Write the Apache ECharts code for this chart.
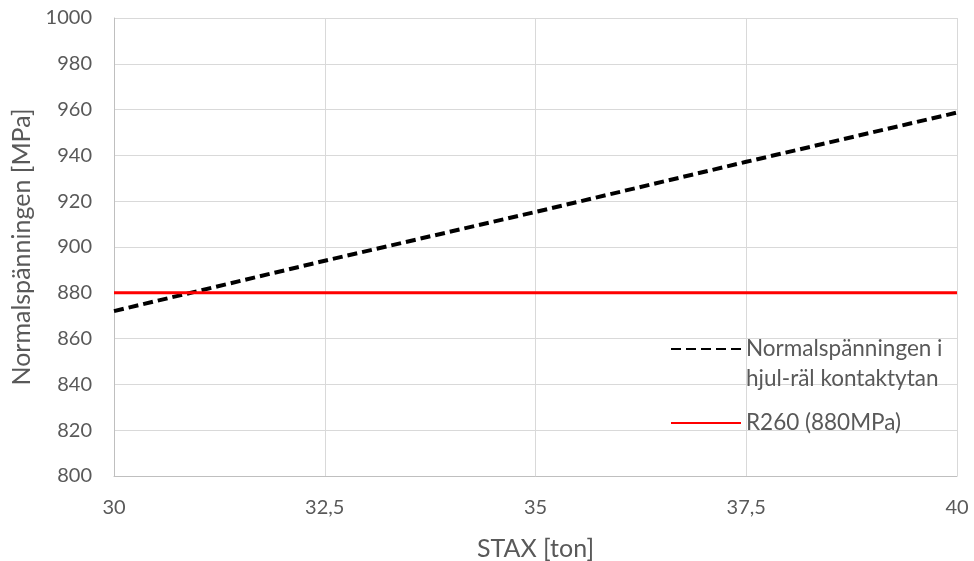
<!DOCTYPE html>
<html>
<head>
<meta charset="utf-8">
<script src="https://cdn.jsdelivr.net/npm/echarts@6/dist/echarts.min.js"></script>
<style>html,body{margin:0;padding:0;background:#fff}#c{width:974px;height:561px}</style>
</head>
<body>
<div id="c"></div>
<script>
const stax = [30, 32.5, 35, 37.5, 40];
const normalStress = [872, 894, 915.3, 937.2, 958.7];
const r260 = [880, 880, 880, 880, 880];
const seriesNames = ['Normalspänningen i\nhjul-räl kontaktytan', 'R260 (880MPa)'];
const xTitle = 'STAX [ton]';
const yTitle = 'Normalspänningen [MPa]';

const font = 'Lato, Open Sans, sans-serif';
const grey = '#595959';
const chart = echarts.init(document.getElementById('c'));
const legendBase = {
  left: 670, itemWidth: 70, itemHeight: 14, padding: 0,
  itemStyle: { opacity: 0 },
  textStyle: { color: grey, fontFamily: font, fontSize: 22.5, lineHeight: 30 }
};
chart.setOption({
  animation: false,
  backgroundColor: '#fff',
  grid: { left: 114, right: 17, top: 18, bottom: 85, containLabel: false, outerBoundsMode: 'none' },
  legend: [
    Object.assign({}, legendBase, { data: [seriesNames[0]], top: 304,
      formatter: n => ' \n' + n }),
    Object.assign({}, legendBase, { data: [seriesNames[1]], top: 408 })
  ],
  xAxis: {
    type: 'value', min: 30, max: 40, interval: 2.5,
    name: xTitle, nameLocation: 'middle', nameGap: 60,
    nameTextStyle: { color: grey, fontFamily: font, fontSize: 25 },
    axisLine: { show: true, lineStyle: { color: '#bfbfbf' } },
    axisTick: { show: false },
    axisLabel: { color: grey, fontFamily: font, fontSize: 20, margin: 22,
      formatter: v => String(v).replace('.', ',') },
    splitLine: { show: true, lineStyle: { color: '#d9d9d9' } }
  },
  yAxis: {
    type: 'value', min: 800, max: 1000, interval: 20,
    name: yTitle, nameLocation: 'middle', nameGap: 74, nameRotate: 90,
    nameTextStyle: { color: grey, fontFamily: font, fontSize: 25 },
    axisLine: { show: true, lineStyle: { color: '#bfbfbf' } },
    axisTick: { show: false },
    axisLabel: { color: grey, fontFamily: font, fontSize: 20, margin: 22,
      formatter: v => String(v) },
    splitLine: { show: true, lineStyle: { color: '#d9d9d9' } }
  },
  series: [
    {
      name: seriesNames[0], type: 'line', symbol: 'none',
      data: stax.map((x, i) => [x, normalStress[i]]),
      lineStyle: { color: '#000', width: 4, type: [10, 5] },
      itemStyle: { color: '#000' }
    },
    {
      name: seriesNames[1], type: 'line', symbol: 'none',
      data: stax.map((x, i) => [x, r260[i]]),
      lineStyle: { color: '#ff0000', width: 3 },
      itemStyle: { color: '#ff0000' }
    }
  ]
});
</script>
</body>
</html>
